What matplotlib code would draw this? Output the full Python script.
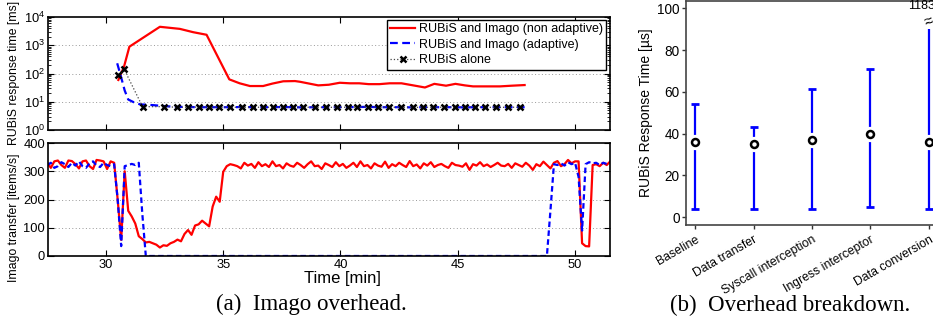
import numpy as np
import matplotlib
matplotlib.use("Agg")
import matplotlib.pyplot as plt
from matplotlib.ticker import LogLocator, LogFormatterSciNotation, NullFormatter

plt.rcParams['font.family'] = ['Liberation Sans', 'DejaVu Sans']
plt.rcParams['mathtext.default'] = 'regular'

# ---------------- data: (a) top panel, response time [ms] ----------------
red_top_t = [30.53, 30.77, 31.0, 32.3, 33.15, 33.72, 34.29, 35.26, 35.7, 36.14, 36.7, 37.1,
             37.56, 38.06, 38.27, 39.05, 39.5, 39.97, 40.4, 40.8, 41.2, 41.66, 42.1, 42.6,
             43.1, 43.6, 44.0, 44.5, 44.9, 45.3, 45.65, 46.2, 46.8, 47.3, 47.85]
red_top_v = [59, 174, 890, 4500, 3800, 2900, 2350, 62, 45, 36, 36, 44,
             53, 54, 51, 38, 40, 47, 45, 45, 42, 42, 45, 45,
             38, 32, 43, 37, 43, 38, 35, 35, 35, 37, 39]

blue_top_t = [30.48, 30.62, 30.8, 30.95, 31.2, 31.45, 32.0, 32.5, 33.0, 33.5, 34.0, 34.4,
              34.8, 35.3, 35.8, 36.3, 36.7, 37.1, 37.5, 38.0, 38.4, 38.9, 39.4, 39.9,
              40.3, 40.7, 41.2, 41.6, 42.1, 42.6, 43.1, 43.5, 43.9, 44.4, 44.9, 45.3,
              45.7, 46.2, 46.6, 47.1, 47.85]
blue_top_v = [230, 90, 25, 12, 9.5, 8.1, 7.6, 7.0, 6.6, 6.5, 6.4, 6.4,
              6.4, 6.4, 6.5, 6.4, 6.4, 6.4, 6.5, 6.4, 6.3, 6.4, 6.4, 6.4,
              6.4, 6.5, 6.6, 6.4, 6.4, 6.4, 6.3, 6.4, 6.4, 6.4, 6.4, 6.3,
              6.4, 6.4, 6.4, 6.4, 6.4]

alone_t = [30.53, 30.77, 31.56, 32.49, 33.01, 33.51, 33.96, 34.4, 34.83, 35.28, 35.78,
           36.28, 36.7, 37.13, 37.53, 37.96, 38.41, 38.91, 39.4, 39.87, 40.33, 40.71,
           41.18, 41.6, 42.07, 42.6, 43.1, 43.52, 43.95, 44.4, 44.87, 45.3, 45.72,
           46.15, 46.65, 47.14, 47.64]
alone_v = [89, 145, 6.7, 6.7, 6.4, 6.4, 6.5, 6.4, 6.4, 6.4, 6.4,
           6.4, 6.4, 6.4, 6.5, 6.4, 6.4, 6.4, 6.3, 6.4, 6.4, 6.5,
           6.6, 6.4, 6.4, 6.4, 6.3, 6.4, 6.4, 6.4, 6.3, 6.4, 6.4,
           6.4, 6.3, 6.4, 6.4]

# ---------------- data: (a) bottom panel, transfer [items/s] ----------------
sample_start = 27.5
sample_step = 0.15
red_bot = [330, 312, 335, 338, 322, 312, 338, 336, 325, 310,
           335, 338, 318, 308, 340, 338, 335, 308, 335, 330,
           200, 57, 300, 160, 140, 115, 70, 60, 48, 50,
           45, 40, 30, 38, 36, 45, 50, 58, 52, 78,
           92, 75, 108, 112, 125, 115, 105, 175, 210, 192,
           298, 318, 325,
           322, 318, 310, 330, 320, 326, 312, 332, 318, 325,
           315, 335, 318, 322, 310, 328, 320, 316, 330, 322,
           312, 325, 335, 318, 320, 308, 328, 322, 315, 332,
           318, 326, 312, 320, 330, 315, 335, 318, 322, 310,
           328, 320, 316, 334, 312, 325, 318, 330, 322, 315,
           336, 318, 324, 310, 328, 320, 332, 315, 322, 326,
           318, 312, 330, 322, 320, 316, 328, 305, 325, 320,
           332, 318, 324, 315, 322, 330, 320, 318, 326, 312,
           328, 322, 316, 330, 320, 305, 325, 318, 334, 322,
           310, 330, 336, 318, 325, 340, 328, 335,
           335, 45, 35, 34, 322, 325, 318, 330, 322, 335]
bot_t = np.round(sample_start + sample_step * np.arange(len(red_bot)), 2)

blue_head = [322, 330, 312, 318, 332, 325, 315, 330, 320, 335,
             318, 312, 328, 335, 320, 315, 330, 322, 318, 325,
             200, 35, 318, 322, 326, 322, 330, 150, 0]
blue_tail = [0, 160, 325, 322, 328, 320, 332, 325, 330, 280,
             90, 325, 332, 328, 330, 322, 330, 326, 332]
blue_t = np.concatenate([bot_t[:len(blue_head)], bot_t[len(bot_t) - len(blue_tail):]])
blue_v = blue_head + blue_tail

# ---------------- data: (b) overhead breakdown ----------------
categories = ["Baseline", "Data transfer", "Syscall interception", "Ingress interceptor", "Data conversion"]
means = [36, 35, 37, 40, 36]
lows = [4, 4, 4, 5, 4]
highs = [54, 43, 61.5, 71, 1183]
clip_at = 90

RED = '#ff0000'
BLUE = '#0000ff'

fig = plt.figure(figsize=(9.33, 3.24), dpi=100)
W, H = 933.0, 324.0

def rect(l, t, r, b):
    return [l / W, 1 - b / H, (r - l) / W, (b - t) / H]

ax1 = fig.add_axes(rect(48, 17, 610, 130))
ax2 = fig.add_axes(rect(48, 143, 610, 256))
ax3 = fig.add_axes(rect(686, 0.5, 950, 225))

xlim = (27.53, 51.49)
tick_fs = 9.3

# top panel
ax1.plot(red_top_t, red_top_v, color=RED, lw=1.6, label='RUBiS and Imago (non adaptive)')
ax1.plot(blue_top_t, blue_top_v, color=BLUE, lw=1.6, ls=(0, (3.5, 2)), label='RUBiS and Imago (adaptive)')
ax1.plot(alone_t, alone_v, color='#444444', lw=0.9, ls=':', marker='x', ms=4.5, mew=1.8,
         mec='black', label='RUBiS alone')
ax1.set_yscale('log')
ax1.set_ylim(1, 1e4)
ax1.set_xlim(*xlim)
ax1.yaxis.set_major_locator(LogLocator(base=10, numticks=10))
ax1.yaxis.set_major_formatter(LogFormatterSciNotation())
ax1.yaxis.set_minor_locator(LogLocator(base=10, subs=np.arange(2, 10), numticks=10))
ax1.yaxis.set_minor_formatter(NullFormatter())
ax1.set_xticks([30, 35, 40, 45, 50])
ax1.set_xticklabels([])
for yv in [10, 100, 1000]:
    ax1.axhline(yv, color='#999999', lw=0.7, ls=(0, (1, 2.5)), zorder=0)
leg = ax1.legend(loc='upper right', bbox_to_anchor=(0.993, 0.975), fontsize=9,
                 frameon=True, fancybox=False, framealpha=1, edgecolor='black',
                 borderpad=0.25, labelspacing=0.3, handlelength=2.0, handletextpad=0.3,
                 borderaxespad=0)
leg.get_frame().set_linewidth(1.0)

# bottom panel
ax2.plot(bot_t, red_bot, color=RED, lw=1.6)
ax2.plot(blue_t, blue_v, color=BLUE, lw=1.6, ls=(0, (2.5, 1.5)))
ax2.set_ylim(0, 400)
ax2.set_xlim(*xlim)
ax2.set_yticks([0, 100, 200, 300, 400])
ax2.set_xticks([30, 35, 40, 45, 50])
for yv in [100, 200, 300]:
    ax2.axhline(yv, color='#999999', lw=0.7, ls=(0, (1, 2.5)), zorder=0)

for ax in (ax1, ax2):
    ax.tick_params(which='both', direction='in', top=True, right=True, labelsize=tick_fs, pad=2)
    ax.tick_params(which='major', length=4, width=0.8)
    ax.tick_params(which='minor', length=2, width=0.6)
    for s in ax.spines.values():
        s.set_linewidth(1.2)
        s.set_color('black')

fig.text(14 / W, 1 - 73 / H, 'RUBiS response time [ms]', rotation=90, ha='center', va='center', fontsize=8.8)
fig.text(14 / W, 1 - 218 / H, 'Imago transfer [items/s]', rotation=90, ha='center', va='center', fontsize=8.8)
fig.text(342 / W, 1 - 278 / H, 'Time [min]', ha='center', va='center', fontsize=12)
fig.text(311 / W, 1 - 304 / H, '(a)  Imago overhead.', ha='center', va='center', fontsize=16.5,
         family=['Liberation Serif', 'DejaVu Serif'])
fig.text(790 / W, 1 - 305 / H, '(b)  Overhead breakdown.', ha='center', va='center', fontsize=16.5,
         family=['Liberation Serif', 'DejaVu Serif'])

# right panel
x = np.arange(len(categories))
tops = [min(h, clip_at) for h in highs]
ax3.vlines(x, lows, tops, color=BLUE, lw=1.6, zorder=2)
ax3.plot(x, lows, ls='none', marker='_', ms=6, mew=2, color=BLUE, zorder=2)
cap_x = [xi for xi, h in zip(x, highs) if h <= clip_at]
cap_y = [h for h in highs if h <= clip_at]
ax3.plot(cap_x, cap_y, ls='none', marker='_', ms=6, mew=2, color=BLUE, zorder=2)
ax3.plot(x, means, ls='none', marker='o', ms=10, mfc='white', mec='white', zorder=3)
ax3.plot(x, means, ls='none', marker='o', ms=5, mfc='white', mec='black', mew=1.8, zorder=4)
for xi, h in zip(x, highs):
    if h > clip_at:
        ax3.text(xi, clip_at + 3.5, '\u2248', ha='center', va='center', fontsize=11, rotation=20)
        ax3.text(xi - 0.12, clip_at + 11, str(h), ha='center', va='center', fontsize=9)
ax3.set_xlim(-0.155, 4.36)
ax3.set_ylim(-3.8, 103.8)
ax3.set_yticks([0, 20, 40, 60, 80, 100])
ax3.set_xticks(x)
ax3.set_xticklabels(categories, rotation=30, ha='right', rotation_mode='anchor', fontsize=8.8)
ax3.tick_params(axis='y', labelsize=9.8, length=3, width=1, color='#333333', pad=1.5)
ax3.tick_params(axis='x', length=3, width=1, color='#333333', pad=3)
for s in ax3.spines.values():
    s.set_color('#444444')
    s.set_linewidth(1.2)
ax3.set_ylabel('RUBiS Response Time [\u00b5s]', fontsize=10, labelpad=3)

fig.savefig('out.png', dpi=100)
